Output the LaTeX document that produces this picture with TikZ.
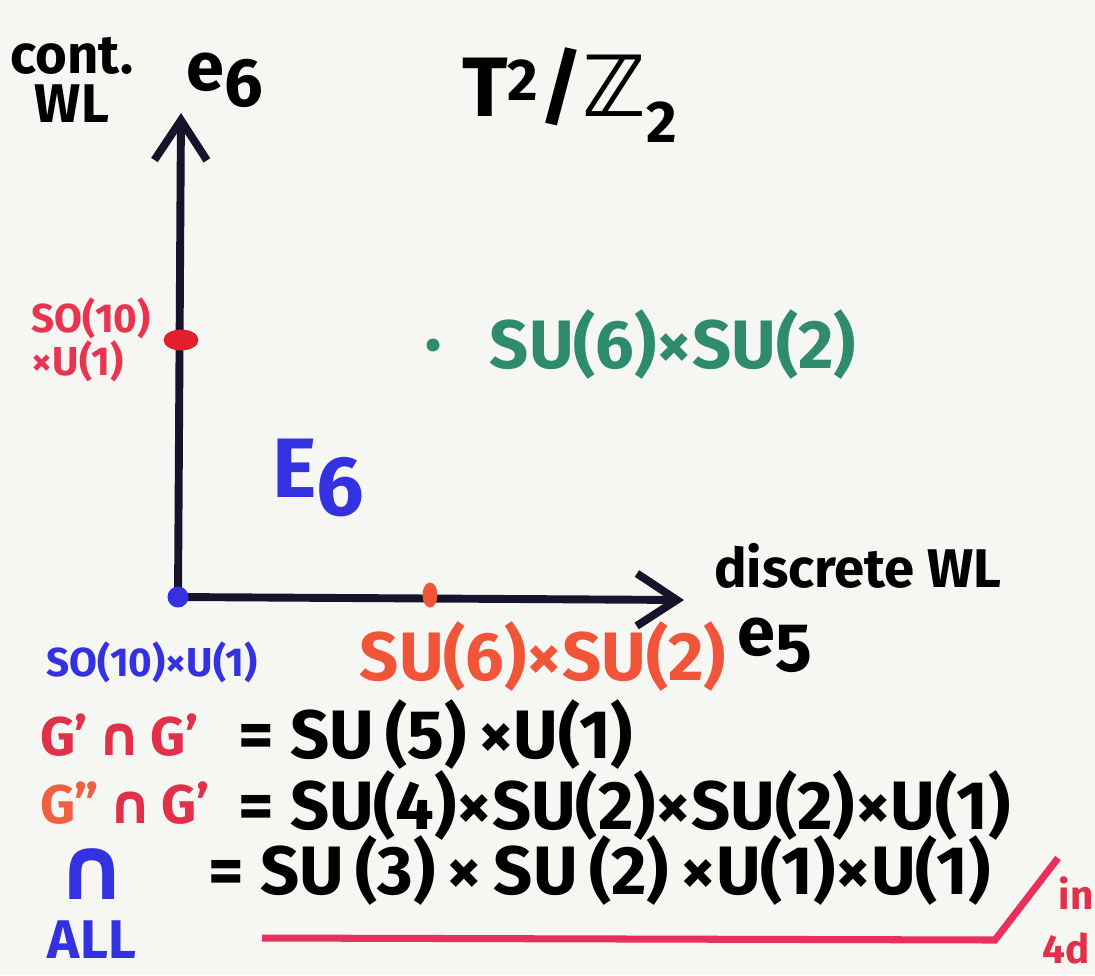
\documentclass[tikz,border=0pt]{standalone}
\usepackage{fontspec}
\setmainfont{Fira Sans}
\newfontfamily\symfont{DejaVu Sans}
\usetikzlibrary{arrows.meta, positioning, shapes.geometric}
\definecolor{paper}{HTML}{F6F6F2}
\definecolor{axisblack}{HTML}{17132B}
\definecolor{sored}{HTML}{E8344F}
\definecolor{dotred}{HTML}{E21F2C}
\definecolor{suorange}{HTML}{F0553A}
\definecolor{sugreen}{HTML}{2E8B6E}
\definecolor{eblue}{HTML}{3432E0}
\definecolor{gred}{HTML}{E0304A}
\definecolor{gorange}{HTML}{F06040}
\definecolor{ulred}{HTML}{E8305A}
\tikzset{
	axisline/.style={
			line width=4.5pt,
			draw=axisblack,
			-{Straight Barb[length=0.8cm, width=1.05cm]}
		},
	dotnode/.style={
			ellipse,
			draw=none,
			inner sep=0pt,
			outer sep=0pt
		},
	handXL/.style={inner sep=0pt, font=\fontsize{48}{50}\selectfont\bfseries},
	handL/.style={inner sep=0pt, font=\fontsize{39}{42}\selectfont\bfseries},
	handM/.style={inner sep=0pt, font=\fontsize{31}{28}\selectfont\bfseries},
	handS/.style={inner sep=0pt, font=\fontsize{23}{22}\selectfont\bfseries},
	underline/.style={line width=4pt, draw=ulred}
}

\begin{document}
\begin{tikzpicture}[x=0.02cm, y=-0.02cm]
\useasboundingbox (0,0) rectangle (1095,975);
\fill[paper] (0,0) rectangle (1095,975);

\coordinate (o) at (178,597);
\coordinate (tipsix) at (181,113);
\coordinate (tipfive) at (684,600);
\draw[axisline] (o) -- (tipsix);
\draw[axisline] (o) -- (tipfive);

\node (origindot) at (o) [dotnode, fill=eblue, minimum size=0.42cm] {};
\node (sodot) at (181,340) [dotnode, fill=dotred, minimum width=0.7cm, minimum height=0.42cm] {};
\node (sudot) at (430,595) [dotnode, fill=suorange, minimum width=0.3cm, minimum height=0.5cm] {};
\node (greendot) at (433,345) [dotnode, fill=sugreen, minimum size=0.26cm] {};

\node (contwl) at (72,80) [handM, align=center] {cont.\\WL};
\node (esix) at (225,80) [handL] {e\raisebox{-0.45ex}{6}};
\node (orbifold) at (570,95) [handXL] {T\textsuperscript{2}/{\symfont ℤ}\textsubscript{2}};
\node (esixgroup) at (318,478) [handXL, text=eblue] {E\raisebox{-0.4ex}{6}};
\node (discrete) at (858,566) [handM] {discrete WL};
\node (efive) at (775,645) [handL] {e\raisebox{-0.45ex}{5}};

\node (solabel) [left=0.25cm of sodot, handS, text=sored, align=left] {SO(10)\\×U(1)};
\node (greenlabel) [right=1cm of greendot, handL, text=sugreen] {SU(6)×SU(2)};
\node (originlabel) at (152,662) [handS, text=eblue] {SO(10)×U(1)};
\node (sulabel) at (543,657) [handL, text=suorange] {SU(6)×SU(2)};

\node (lhsone) at (40,735) [handM, anchor=west, text=gred] {G'\,{\symfont ∩}\,G'};
\node (rhsone) at (238,735) [handL, anchor=west] {= SU\,(5)\,×U(1)};
\node (lhstwo) at (40,803) [handM, anchor=west, text=gred] {{\color{gorange}G''}\,{\symfont ∩}\,G'};
\node (rhstwo) at (238,805) [handL, anchor=west] {= SU(4)×SU(2)×SU(2)×U(1)};
\node (bigcap) at (92,874) [inner sep=0pt, text=eblue, font=\symfont\fontsize{50}{50}\selectfont\bfseries] {∩};
\node (alllabel) at (92,940) [handM, text=eblue] {ALL};
\node (rhsall) at (208,870) [handL, anchor=west] {= SU\,(3)\,×\,SU\,(2)\,×U(1)×U(1)};

\coordinate (ulstart) at (262,938);
\coordinate (ulbend) at (995,940);
\coordinate (ultop) at (1058,858);
\draw[underline] (ulstart) -- (ulbend) -- (ultop);
\node (inword) at (1076,893) [handS, text=gred] {in};
\node (fourd) at (1066,948) [handS, text=gred] {4d};

\end{tikzpicture}
\end{document}
